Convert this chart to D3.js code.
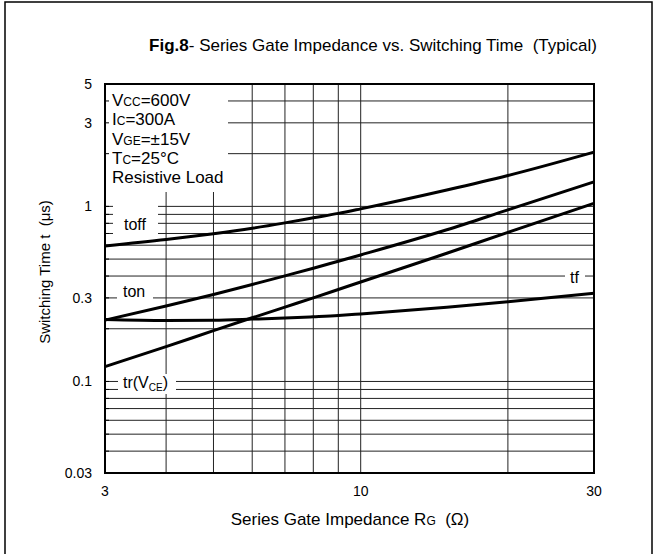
<!DOCTYPE html>
<html>
<head>
<meta charset="utf-8">
<script src="https://cdn.jsdelivr.net/npm/d3@7"></script>
<style>
  body { margin: 0; background: #fff; }
  text { font-family: "Liberation Sans", Arial, sans-serif; fill: #000; white-space: pre; }
</style>
</head>
<body>
<script>
// data
var rg = [3, 4, 5, 6, 7, 8, 9, 10, 15, 20, 30];
var toff = [0.594, 0.646, 0.698, 0.75, 0.805, 0.86, 0.912, 0.968, 1.24, 1.5, 2.04];
var ton = [0.224, 0.27, 0.314, 0.358, 0.401, 0.443, 0.486, 0.528, 0.735, 0.955, 1.38];
var tr = [0.1215, 0.158, 0.195, 0.231, 0.266, 0.30, 0.335, 0.37, 0.54, 0.71, 1.04];
var tf = [0.226, 0.223, 0.224, 0.227, 0.23, 0.234, 0.238, 0.243, 0.265, 0.285, 0.319];

var xTicks = [3, 10, 30];
var yTicks = [5, 3, 1, 0.3, 0.1, 0.03];
var xGrid = [4, 5, 6, 7, 8, 9, 10, 20];
var yGrid = [4, 3, 2, 1, 0.9, 0.8, 0.7, 0.6, 0.5, 0.4, 0.3, 0.2, 0.1, 0.09, 0.08, 0.07, 0.06, 0.05, 0.04];

// set the dimensions and margins of the graph
var margin = {top: 84, right: 62, bottom: 81, left: 105},
    width = 656 - margin.left - margin.right,
    height = 554 - margin.top - margin.bottom;

var x = d3.scaleLog().domain([3, 30]).range([0, width]);
var y = d3.scaleLog().domain([0.03, 5]).range([height, 0]);

var svg = d3.select("body").append("svg")
    .attr("width", 656)
    .attr("height", 554);

// outer frame
svg.append("rect")
    .attr("x", 5).attr("y", 2)
    .attr("width", 647).attr("height", 570)
    .attr("fill", "none")
    .attr("stroke", "#000")
    .attr("stroke-width", 1.5);

// title
var title = svg.append("text")
    .attr("x", 373)
    .attr("y", 51)
    .attr("text-anchor", "middle")
    .style("font-size", "17px");
title.append("tspan").style("font-weight", "bold").text("Fig.8");
title.append("tspan").text("- Series Gate Impedance vs. Switching Time  (Typical)");

var g = svg.append("g")
    .attr("transform", "translate(" + margin.left + "," + margin.top + ")");

// grid lines
g.selectAll(".vgrid")
    .data(xGrid)
  .enter().append("line")
    .attr("x1", function(d) { return x(d); })
    .attr("x2", function(d) { return x(d); })
    .attr("y1", 0)
    .attr("y2", height)
    .attr("stroke", "#222")
    .attr("stroke-width", 1);

g.selectAll(".hgrid")
    .data(yGrid)
  .enter().append("line")
    .attr("x1", 0)
    .attr("x2", width)
    .attr("y1", function(d) { return y(d); })
    .attr("y2", function(d) { return y(d); })
    .attr("stroke", "#222")
    .attr("stroke-width", 1);

// white boxes behind the labels
var boxes = [
  [0, 0, 123, 108],
  [8, 121, 45, 31],
  [12, 200, 36, 20],
  [13, 290, 58, 20],
  [460, 184, 20, 20]
];
g.selectAll(".box")
    .data(boxes)
  .enter().append("rect")
    .attr("x", function(d) { return d[0]; })
    .attr("y", function(d) { return d[1]; })
    .attr("width", function(d) { return d[2]; })
    .attr("height", function(d) { return d[3]; })
    .attr("fill", "#fff");

// small ticks on the left edge
g.selectAll(".ltick")
    .data(yGrid)
  .enter().append("line")
    .attr("x1", 0)
    .attr("x2", 4)
    .attr("y1", function(d) { return y(d); })
    .attr("y2", function(d) { return y(d); })
    .attr("stroke", "#000")
    .attr("stroke-width", 1);

// curves
var line = d3.line()
    .curve(d3.curveMonotoneX)
    .x(function(d) { return x(d[0]); })
    .y(function(d) { return y(d[1]); });

[toff, ton, tr, tf].forEach(function(s) {
  g.append("path")
      .datum(rg.map(function(r, i) { return [r, s[i]]; }))
      .attr("d", line)
      .attr("fill", "none")
      .attr("stroke", "#000")
      .attr("stroke-width", 3);
});

// axis frame
g.append("rect")
    .attr("width", width)
    .attr("height", height)
    .attr("fill", "none")
    .attr("stroke", "#000")
    .attr("stroke-width", 2);

// tick labels
g.selectAll(".xl")
    .data(xTicks)
  .enter().append("text")
    .attr("x", function(d) { return x(d); })
    .attr("y", height + 23)
    .attr("text-anchor", "middle")
    .style("font-size", "14px")
    .text(function(d) { return d; });

g.selectAll(".yl")
    .data(yTicks)
  .enter().append("text")
    .attr("x", -13)
    .attr("y", function(d) { return y(d) + 5; })
    .attr("text-anchor", "end")
    .style("font-size", "14px")
    .text(function(d) { return d; });

// conditions
var cond = [["V", "CC", "=600V"], ["I", "C", "=300A"], ["V", "GE", "=\u00b115V"], ["T", "C", "=25\u00b0C"], ["Resistive Load", "", ""]];
cond.forEach(function(c, i) {
  var t = g.append("text")
      .attr("x", 7)
      .attr("y", 22 + i * 19.3)
      .style("font-size", "17px");
  t.append("tspan").text(c[0]);
  t.append("tspan").style("font-size", "12px").text(c[1]);
  t.append("tspan").text(c[2]);
});

// curve labels
g.append("text").attr("x", 19).attr("y", 146).style("font-size", "16px").text("toff");
g.append("text").attr("x", 18).attr("y", 213).style("font-size", "16px").text("ton");
var trl = g.append("text").attr("x", 18).attr("y", 304).style("font-size", "16px");
trl.append("tspan").text("tr(V");
trl.append("tspan").attr("dy", 3).style("font-size", "10px").text("CE");
trl.append("tspan").attr("dy", -3).text(")");
g.append("text").attr("x", 465).attr("y", 199).style("font-size", "16px").text("tf");

// axis titles
var xt = svg.append("text")
    .attr("x", 350)
    .attr("y", 525)
    .attr("text-anchor", "middle")
    .style("font-size", "17px");
xt.append("tspan").text("Series Gate Impedance R");
xt.append("tspan").style("font-size", "12px").text("G");
xt.append("tspan").text("  (\u03a9)");

svg.append("text")
    .attr("transform", "translate(50,272) rotate(-90)")
    .attr("text-anchor", "middle")
    .style("font-size", "15px")
    .text("Switching Time t  (\u03bcs)");
</script>
</body>
</html>
